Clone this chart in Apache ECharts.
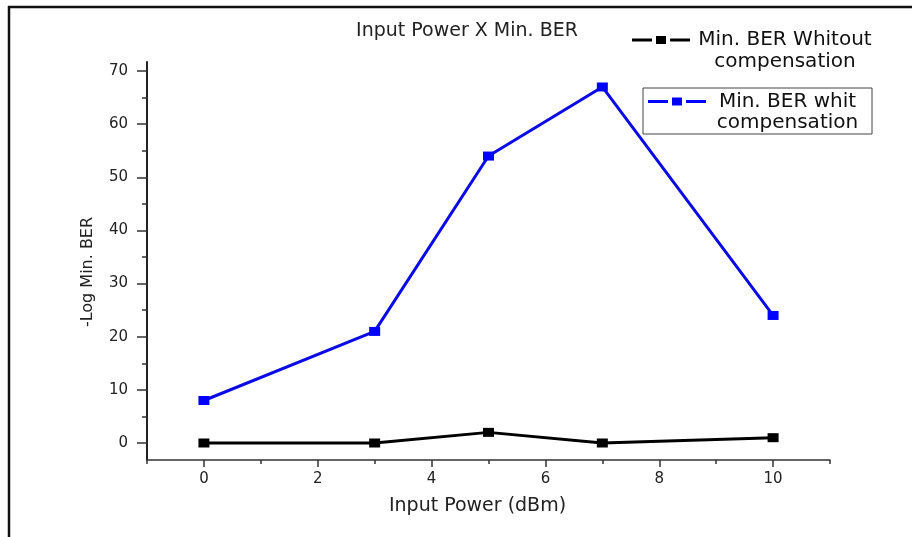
<!DOCTYPE html>
<html>
<head>
<meta charset="utf-8">
<script src="https://cdn.jsdelivr.net/npm/echarts@6/dist/echarts.min.js"></script>
<style>html,body{margin:0;padding:0;background:#fff}#c{width:912px;height:537px}</style>
</head>
<body>
<div id="c"></div>
<script>
// ---- data ----
const inputPower = [0, 3, 5, 7, 10];
const berWithout = [0, 0, 2, 0, 1];
const berWith = [8, 21, 54, 67, 24];
const xMajorTicks = [0, 2, 4, 6, 8, 10];
const xMinorTicks = [-1, 1, 3, 5, 7, 9, 11];
const yMajorTicks = [0, 10, 20, 30, 40, 50, 60, 70];
const yMinorTicks = [5, 15, 25, 35, 45, 55, 65];
const seriesNames = ['Min. BER Whitout compensation', 'Min. BER whit compensation'];

const FONT = 'DejaVu Sans';
const pairs = (ys) => inputPower.map((x, i) => [x, ys[i]]);
const iconPath = (h) =>
  'path://M0,0h0.05v0.05h-0.05z' +
  'M0,' + (h / 4 - 1.5) + 'h20v3h-20z' +
  'M24,' + (h / 4 - 4) + 'h10v8h-10z' +
  'M38,' + (h / 4 - 1.5) + 'h20v3h-20z' +
  'M57.95,' + (h - 0.05) + 'h0.05v0.05h-0.05z';
const legendFmt = (name) => {
  const i = name.indexOf(' compensation');
  return '{t|' + name.slice(0, i) + '}\n{t|compensation}';
};

const chart = echarts.init(document.getElementById('c'));
chart.setOption({
  backgroundColor: '#fff',
  animation: false,
  title: {
    text: 'Input Power X Min. BER',
    left: 467, top: 22, padding: 0, textAlign: 'center',
    textStyle: { fontFamily: FONT, fontSize: 19, fontWeight: 'normal', color: '#222' }
  },
  legend: [
    {
      data: [{ name: seriesNames[0], icon: iconPath(44) }],
      left: 632, top: 29, padding: 0,
      itemWidth: 58, itemHeight: 44, itemGap: 0,
      selectedMode: false,
      itemStyle: { borderWidth: 0 },
      formatter: legendFmt,
      textStyle: { rich: { t: { fontFamily: FONT, fontSize: 20, color: '#111', width: 180, align: 'center', lineHeight: 22 } } }
    },
    {
      data: [{ name: seriesNames[1], icon: iconPath(42) }],
      left: 643, top: 88, padding: [3, 8, 1, 5],
      itemWidth: 58, itemHeight: 42, itemGap: 0,
      selectedMode: false,
      borderColor: '#444', borderWidth: 1,
      itemStyle: { borderWidth: 0 },
      formatter: legendFmt,
      textStyle: { rich: { t: { fontFamily: FONT, fontSize: 20, color: '#111', width: 153, align: 'center', lineHeight: 21 } } }
    }
  ],
  grid: { left: 147, top: 62, width: 683, height: 398, containLabel: false },
  xAxis: [
    {
      type: 'value', min: -1, max: 11, position: 'bottom',
      name: 'Input Power (dBm)', nameLocation: 'middle', nameGap: 37,
      nameTextStyle: { fontFamily: FONT, fontSize: 19, color: '#222', padding: [0, 22, 0, 0] },
      axisLine: { show: true, onZero: false, lineStyle: { color: '#333', width: 1.5 } },
      axisTick: { show: true, length: 7, customValues: xMajorTicks, lineStyle: { color: '#333', width: 1.5 } },
      axisLabel: { customValues: xMajorTicks, margin: 12, fontFamily: FONT, fontSize: 15, color: '#222' },
      splitLine: { show: false }
    },
    {
      type: 'value', min: -1, max: 11, position: 'bottom',
      axisLine: { show: false, onZero: false },
      axisTick: { show: true, length: 4, customValues: xMinorTicks, lineStyle: { color: '#333', width: 1.5 } },
      axisLabel: { show: false },
      splitLine: { show: false }
    }
  ],
  yAxis: [
    {
      type: 'value', min: -3.2, max: 71.7, position: 'left',
      name: '-Log Min. BER', nameLocation: 'middle', nameGap: 51, nameRotate: 90,
      nameTextStyle: { fontFamily: FONT, fontSize: 16, color: '#222', padding: [0, 22, 0, 0] },
      axisLine: { show: true, onZero: false, lineStyle: { color: '#222', width: 2 } },
      axisTick: { show: true, length: 10, customValues: yMajorTicks, lineStyle: { color: '#333', width: 1.5 } },
      axisLabel: { customValues: yMajorTicks, margin: 19, fontFamily: FONT, fontSize: 15, color: '#222' },
      splitLine: { show: false }
    },
    {
      type: 'value', min: -3.2, max: 71.7, position: 'left',
      axisLine: { show: false, onZero: false },
      axisTick: { show: true, length: 5, customValues: yMinorTicks, lineStyle: { color: '#333', width: 1.5 } },
      axisLabel: { show: false },
      splitLine: { show: false }
    }
  ],
  series: [
    {
      name: seriesNames[0], type: 'line', xAxisIndex: 0, yAxisIndex: 0,
      data: pairs(berWithout),
      symbol: 'rect', symbolSize: [11, 9],
      itemStyle: { color: '#000' },
      lineStyle: { color: '#000', width: 3 }
    },
    {
      name: seriesNames[1], type: 'line', xAxisIndex: 0, yAxisIndex: 0,
      data: pairs(berWith),
      symbol: 'rect', symbolSize: [11, 9],
      itemStyle: { color: '#0000ff' },
      lineStyle: { color: '#0a0ae6', width: 3 }
    }
  ],
  graphic: [
    {
      type: 'rect', silent: true,
      shape: { x: 9, y: 7, width: 950, height: 600 },
      style: { fill: 'none', stroke: '#111', lineWidth: 2.5 }
    }
  ]
});
</script>
</body>
</html>
